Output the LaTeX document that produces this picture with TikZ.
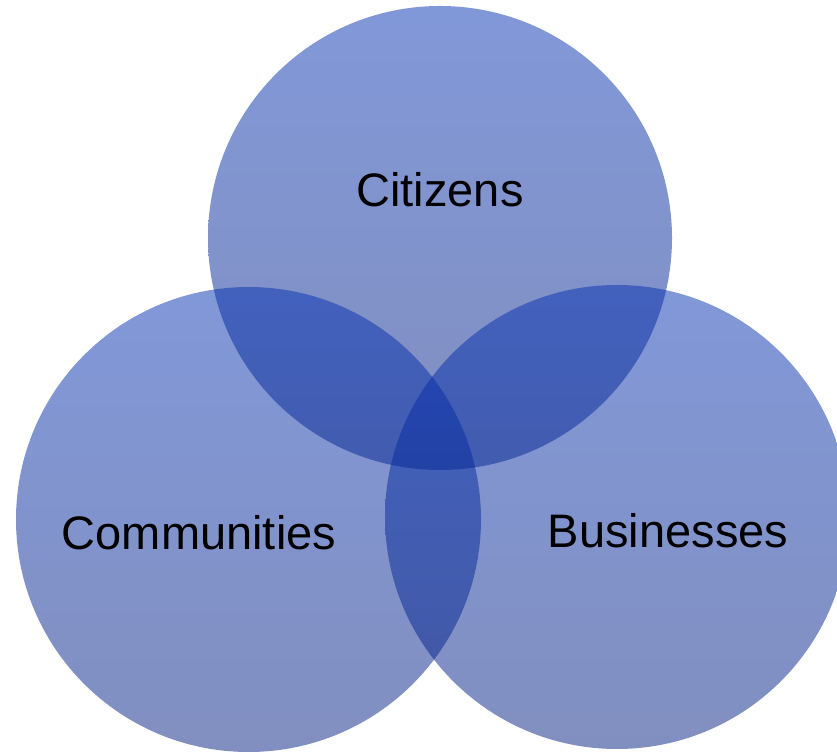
\documentclass[tikz,border=0pt]{standalone}
\usepackage{fontspec}
\setmainfont{Liberation Sans}
\definecolor{venntop}{RGB}{4,49,178}
\definecolor{vennbot}{RGB}{4,31,129}
\begin{document}
\begin{tikzpicture}[x=1pt, y=1pt,
    venn/.style = {circle, inner sep=0pt, minimum size=464pt, top color=venntop, bottom color=vennbot, fill opacity=0.5, draw=none},
    txt/.style = {anchor=base, inner sep=0pt, font=\fontsize{47}{56}\selectfont}]
    \useasboundingbox (0,0) rectangle (837,754);
    \node[venn] (cit) at (440,516) {};
    \node[venn, minimum size=465pt] (com) at (248.5,234.5) {};
    \node[venn] (bus) at (617,237) {};
    \node[txt] (citt) at (440,547) {Citizens};
    \node[txt] (comt) at (199,204) {Communities};
    \node[txt] (bust) at (668,206) {Businesses};
    \end{tikzpicture}
\end{document}
